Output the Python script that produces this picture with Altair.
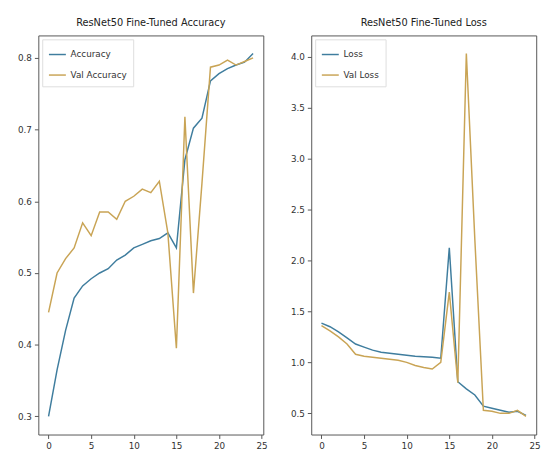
import altair as alt
import pandas as pd

# ---- data ----
epochs = list(range(25))

accuracy = [0.300, 0.365, 0.420, 0.465, 0.482, 0.492, 0.500, 0.506, 0.518, 0.525,
            0.535, 0.540, 0.545, 0.548, 0.556, 0.535, 0.658, 0.702, 0.716, 0.768,
            0.778, 0.785, 0.790, 0.794, 0.806]
val_accuracy = [0.445, 0.500, 0.520, 0.535, 0.570, 0.552, 0.585, 0.585, 0.575, 0.600,
                0.607, 0.617, 0.612, 0.628, 0.556, 0.395, 0.718, 0.472, 0.625, 0.787,
                0.790, 0.797, 0.790, 0.795, 0.800]

loss = [1.385, 1.350, 1.300, 1.240, 1.180, 1.150, 1.120, 1.100, 1.090, 1.080,
        1.070, 1.060, 1.055, 1.050, 1.040, 2.125, 0.810, 0.740, 0.680, 0.570,
        0.550, 0.530, 0.510, 0.520, 0.480]
val_loss = [1.360, 1.310, 1.250, 1.180, 1.080, 1.060, 1.050, 1.040, 1.030, 1.020,
            1.000, 0.970, 0.950, 0.935, 1.000, 1.690, 0.800, 4.030, 2.200, 0.530,
            0.520, 0.500, 0.500, 0.530, 0.470]

acc_labels = ["Accuracy", "Val Accuracy"]
loss_labels = ["Loss", "Val Loss"]
x_ticks = [0, 5, 10, 15, 20, 25]
acc_ticks = [0.3, 0.4, 0.5, 0.6, 0.7, 0.8]
loss_ticks = [0.5, 1.0, 1.5, 2.0, 2.5, 3.0, 3.5, 4.0]

BLUE = "#3f7d9e"
GOLD = "#c9a455"
FONT = "DejaVu Sans"


def margin_domain(a, b, frac=0.05):
    lo = min(a + b)
    hi = max(a + b)
    r = hi - lo
    return [lo - frac * r, hi + frac * r]


def panel(train, val, labels, title, yticks):
    n = len(epochs)
    df = pd.DataFrame({
        "epoch": epochs + epochs,
        "value": train + val,
        "series": [labels[0]] * n + [labels[1]] * n,
    })
    return alt.Chart(df).mark_line(strokeWidth=1.5).encode(
        x=alt.X("epoch:Q",
                scale=alt.Scale(domain=[-1.2, 25.2], nice=False, zero=False),
                axis=alt.Axis(values=x_ticks, title=None, grid=False, domain=False,
                              tickColor="#555", tickSize=4, labelFontSize=9,
                              labelColor="#333", labelFont=FONT, labelPadding=3)),
        y=alt.Y("value:Q",
                scale=alt.Scale(domain=margin_domain(train, val), nice=False, zero=False),
                axis=alt.Axis(values=yticks, format=".1f", title=None, grid=False,
                              domain=False, tickColor="#555", tickSize=4,
                              labelFontSize=9, labelColor="#333", labelFont=FONT,
                              labelPadding=3)),
        color=alt.Color("series:N",
                        scale=alt.Scale(domain=labels, range=[BLUE, GOLD]),
                        legend=alt.Legend(title=None, orient="top-left", offset=4,
                                          symbolType="stroke", symbolSize=300,
                                          symbolStrokeWidth=1.5, labelFontSize=9,
                                          labelFont=FONT, labelColor="#333",
                                          fillColor="white", strokeColor="#ddd",
                                          padding=6, rowPadding=6)),
    ).properties(
        width=230, height=408,
        title=alt.TitleParams(title, fontSize=10, font=FONT, fontWeight="normal",
                              color="#222", offset=8),
    )


left = panel(accuracy, val_accuracy, acc_labels, "ResNet50 Fine-Tuned Accuracy", acc_ticks)
right = panel(loss, val_loss, loss_labels, "ResNet50 Fine-Tuned Loss", loss_ticks)

chart = alt.hconcat(left, right, spacing=49, bounds="flush").resolve_scale(
    color="independent", y="independent"
).resolve_legend(color="independent").configure_view(
    stroke="#555", strokeWidth=1
).properties(
    padding={"left": 9, "top": 4, "right": 5, "bottom": 5},
    background="white",
)

chart.save("out.html", embed_options={"renderer": "svg", "actions": False})
